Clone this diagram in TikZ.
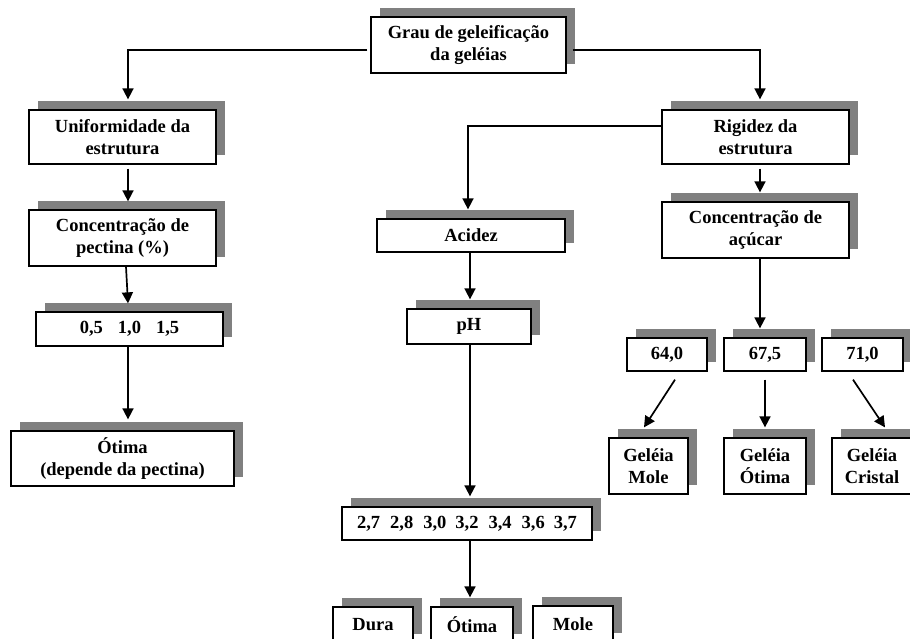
\documentclass[tikz,border=0pt]{standalone}
\usepackage{fontspec}
\setmainfont{Liberation Serif}
\usetikzlibrary{shadows,arrows.meta}
\definecolor{shgray}{RGB}{128,128,128}
\begin{document}
\begin{tikzpicture}[x=1pt,y=-1pt,
  box/.style={draw=black, line width=1.3pt, fill=white, inner sep=0pt, align=center,
    font=\fontsize{18.5}{21.7}\selectfont\bfseries,
    general shadow={fill=shgray, shadow xshift=9pt, shadow yshift=9pt}},
  arr/.style={line width=1.7pt, -{Triangle[width=11pt,length=11pt]}}]
\useasboundingbox (0,0) rectangle (910,638);
\clip (0,0) rectangle (910,638);

% top
\node[box, minimum width=195pt, minimum height=56pt] (top) at (468.5,45) {Grau de geleificação\\da geléias};

% left column
\node[box, minimum width=187pt, minimum height=54pt] (unif) at (122.5,137) {Uniformidade da\\estrutura};
\node[box, minimum width=187pt, minimum height=56pt] (pect) at (122.5,238) {Concentração de\\pectina (\%)};
\node[box, minimum width=187pt, minimum height=34pt] (vals) at (129.5,329) {0,5\hspace{15pt}1,0\hspace{15pt}1,5};
\node[box, minimum width=223pt, minimum height=55pt] (otima1) at (122.5,458.5) {Ótima\\(depende da pectina)};

% middle column
\node[box, minimum width=188pt, minimum height=33pt] (acid) at (471,235.5) {Acidez};
\node[box, minimum width=124pt, minimum height=35pt] (ph) at (469,326.5) {pH};
\node[box, minimum width=250pt, minimum height=33pt] (nums) at (467,523.5) {2,7\hspace{10pt}2,8\hspace{10pt}3,0\hspace{9pt}3,2\hspace{10pt}3,4\hspace{10pt}3,6\hspace{9pt}3,7};
\node[box, minimum width=80pt, minimum height=36pt] (dura) at (373,625) {Dura};
\node[box, minimum width=82pt, minimum height=36pt] (ota) at (472,625) {Ótima};
\node[box, minimum width=80pt, minimum height=36pt] (mole) at (573,624) {Mole};

% right column
\node[box, minimum width=187pt, minimum height=54pt] (rig) at (755.5,137) {Rigidez da\\estrutura};
\node[box, minimum width=187pt, minimum height=56pt] (acu) at (755.5,230) {Concentração de\\açúcar};
\node[box, minimum width=80pt, minimum height=33pt] (n64) at (667,354.5) {64,0};
\node[box, minimum width=82pt, minimum height=33pt] (n675) at (765,354.5) {67,5};
\node[box, minimum width=81pt, minimum height=33pt] (n71) at (862.5,354.5) {71,0};
\node[box, minimum width=79pt, minimum height=56pt] (gm) at (648.5,466) {Geléia\\Mole};
\node[box, minimum width=82pt, minimum height=56pt] (go) at (765,466) {Geléia\\Ótima};
\node[box, minimum width=80pt, minimum height=56pt] (gc) at (872,466) {Geléia\\Cristal};

% connectors
\draw[arr] ([xshift=-3pt,yshift=-5pt]top.west) -| ([xshift=5.5pt,yshift=10pt]unif.north);
\draw[arr] ([xshift=6pt,yshift=-5pt]top.east) -| ([xshift=4.5pt,yshift=10pt]rig.north);
\draw[arr] ([xshift=5.5pt,yshift=-4pt]unif.south) -- ([xshift=5.5pt,yshift=8pt]pect.north);
\draw[arr] ([xshift=3.5pt]pect.south) -- ([xshift=-1.5pt,yshift=8pt]vals.north);
\draw[arr] ([xshift=-1.5pt]vals.south) -- ([xshift=5.5pt,yshift=11pt]otima1.north);

\draw[arr] ([yshift=11pt]rig.west) -| ([xshift=-3pt,yshift=9pt]acid.north);
\draw[arr] ([xshift=4.5pt,yshift=-4pt]rig.south) -- ([xshift=4.5pt,yshift=9pt]acu.north);
\draw[arr] ([xshift=-1pt]acid.south) -- ([xshift=1pt,yshift=9pt]ph.north);
\draw[arr] ([xshift=1pt]ph.south) -- ([xshift=3pt,yshift=10pt]nums.north);
\draw[arr] ([xshift=3pt]nums.south) -- ([xshift=-2pt,yshift=9pt]ota.north);

\draw[arr] ([xshift=4.5pt]acu.south) -- ([xshift=-5pt,yshift=9pt]n675.north);
\draw[arr] ([xshift=8pt,yshift=-8pt]n64.south) -- ([xshift=-4.5pt,yshift=10pt]gm.north);
\draw[arr] ([yshift=-8pt]n675.south) -- ([yshift=10pt]go.north);
\draw[arr] ([xshift=-9.5pt,yshift=-8pt]n71.south) -- ([xshift=13pt,yshift=10pt]gc.north);
\end{tikzpicture}
\end{document}
